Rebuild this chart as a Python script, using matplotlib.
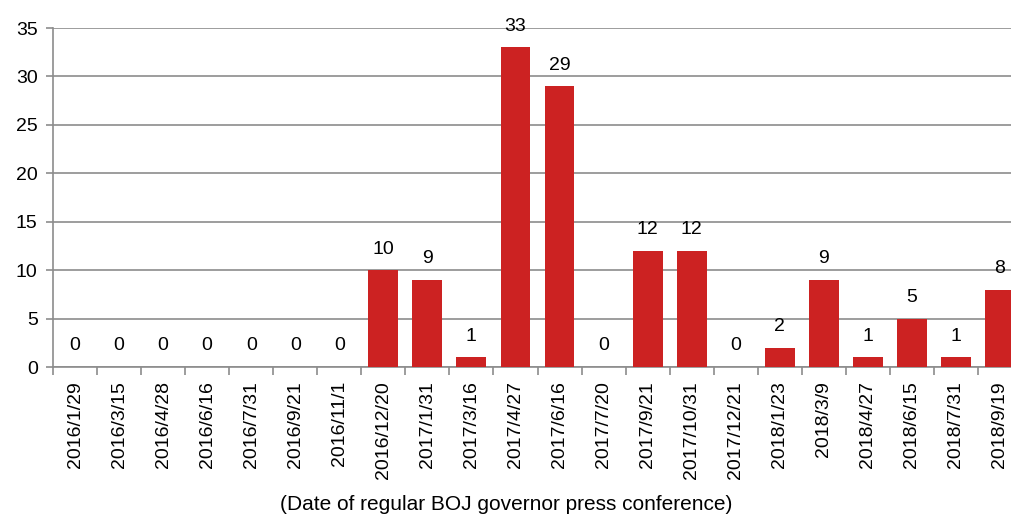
import matplotlib
matplotlib.use('Agg')
import matplotlib.pyplot as plt
import numpy as np

plt.rcParams['font.family'] = ['Liberation Sans', 'DejaVu Sans']

dates = ['2016/1/29', '2016/3/15', '2016/4/28', '2016/6/16', '2016/7/31', '2016/9/21',
         '2016/11/1', '2016/12/20', '2017/1/31', '2017/3/16', '2017/4/27', '2017/6/16',
         '2017/7/20', '2017/9/21', '2017/10/31', '2017/12/21', '2018/1/23', '2018/3/9',
         '2018/4/27', '2018/6/15', '2018/7/31', '2018/9/19']
counts = [0, 0, 0, 0, 0, 0, 0, 10, 9, 1, 33, 29, 0, 12, 12, 0, 2, 9, 1, 5, 1, 8]

fig = plt.figure(figsize=(10.11, 5.17), dpi=100)
ax = fig.add_axes([53/1011, 150/517, 969/1011, 339/517])

x = np.arange(len(dates))
ax.bar(x, counts, width=0.68, color='#cc2222', zorder=3)
for xi, v in zip(x, counts):
    ax.text(xi, v + 1.3, str(v), ha='center', va='bottom', fontsize=14)

ax.set_xlim(-0.5, len(dates) - 0.5)
ax.set_ylim(0, 35)
ax.set_yticks(range(0, 36, 5))
ax.yaxis.grid(True, color='#8c8c8c', linewidth=1.2, zorder=0)
ax.tick_params(axis='y', labelsize=14, length=5, color='#8c8c8c', width=1.2, pad=6)

ax.set_xticks(x)
ax.set_xticklabels(dates, rotation=90, fontsize=14)
ax.set_xticks(np.arange(-0.5, len(dates), 1), minor=True)
ax.tick_params(axis='x', which='major', length=0, pad=10)
ax.tick_params(axis='x', which='minor', length=6, color='#8c8c8c', width=1.2)

for s in ['top', 'right']:
    ax.spines[s].set_visible(False)
for s in ['left', 'bottom']:
    ax.spines[s].set_color('#8c8c8c')
    ax.spines[s].set_linewidth(1.2)

fig.text(506/1011, 1 - 505/517, '(Date of regular BOJ governor press conference)',
         ha='center', va='center', fontsize=15)

fig.savefig('out.png', dpi=100)
